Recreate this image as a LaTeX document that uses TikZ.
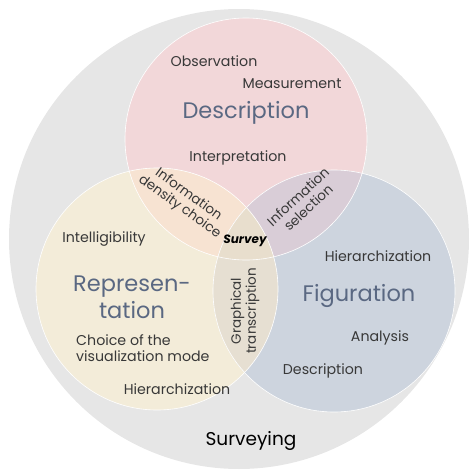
\documentclass[tikz,border=0pt]{standalone}
\usepackage{fontspec}
\setmainfont{Poppins}

\definecolor{outergrey}{HTML}{E6E6E6}
\definecolor{descpink}{HTML}{F2D7D9}
\definecolor{repryellow}{HTML}{F3ECD9}
\definecolor{figblue}{HTML}{CDD4DE}
\definecolor{drpeach}{HTML}{F7E3D2}
\definecolor{dfmauve}{HTML}{D9CDD7}
\definecolor{rfbeige}{HTML}{E6DFD2}
\definecolor{allbeige}{HTML}{E8DECD}
\definecolor{titleblue}{HTML}{5A6882}
\definecolor{labelgrey}{HTML}{383838}

\tikzset{
  smalltxt/.style={text=labelgrey, font=\fontsize{14.2}{15.5}\selectfont, inner sep=0pt, align=center},
  lenstxt/.style={smalltxt, font=\fontsize{13.5}{15}\selectfont},
  bigtxt/.style={text=titleblue, font=\fontsize{22.5}{27}\selectfont, inner sep=0pt, align=center},
  ring/.style={draw=white, line width=0.6pt},
}

\begin{document}
\begin{tikzpicture}[x=1pt,y=-1pt]
\useasboundingbox (0,0) rectangle (469,474);

% circles
\coordinate (D) at (246,139);
\coordinate (R) at (157,289);
\coordinate (F) at (334,291);
\fill[outergrey] (239,239) circle (230);
\fill[descpink] (D) circle (121);
\fill[repryellow] (R) circle (121);
\fill[figblue] (F) circle (121);

% overlaps
\begin{scope} \clip (D) circle (121); \fill[drpeach] (R) circle (121); \end{scope}
\begin{scope} \clip (D) circle (121); \fill[dfmauve] (F) circle (121); \end{scope}
\begin{scope} \clip (R) circle (121); \fill[rfbeige] (F) circle (121); \end{scope}
\begin{scope} \clip (D) circle (121); \clip (R) circle (121); \fill[allbeige] (F) circle (121); \end{scope}
\foreach \c in {D,R,F}{\draw[ring] (\c) circle (121);}

% Description
\node[smalltxt] (observ) at (214,61) {Observation};
\node[smalltxt] (measure) at (292,84) {Measurement};
\node[bigtxt] (descr) at (246,113) {Description};
\node[smalltxt] (interp) at (238,158) {Interpretation};

% Representation
\node[smalltxt] (intell) at (104,239) {Intelligibility};
\node[bigtxt] (repr) at (132,297) {Represen-\\tation};
\node[smalltxt, align=left, anchor=west] (choice) at (76,348) {Choice of the\\visualization mode};
\node[smalltxt] (hierL) at (177,389) {Hierarchization};

% Figuration
\node[smalltxt] (hierR) at (378,256) {Hierarchization};
\node[bigtxt] (figur) at (359,296) {Figuration};
\node[smalltxt] (analys) at (380,338) {Analysis};
\node[smalltxt] (descrR) at (323,371) {Description};

% overlaps
\node[lenstxt, rotate=-36] (density) at (184,201) {Information\\density choice};
\node[lenstxt, rotate=43] (select) at (303,202) {Information\\selection};
\node[lenstxt, rotate=90] (graph) at (245,311) {Graphical\\transcription};
\node[font=\fontsize{12}{14}\bfseries\itshape\selectfont, inner sep=0pt] (survey) at (245,241) {Survey};

\node[font=\fontsize{18.5}{22}\selectfont, inner sep=0pt] (surveying) at (251,441) {Surveying};
\end{tikzpicture}
\end{document}
